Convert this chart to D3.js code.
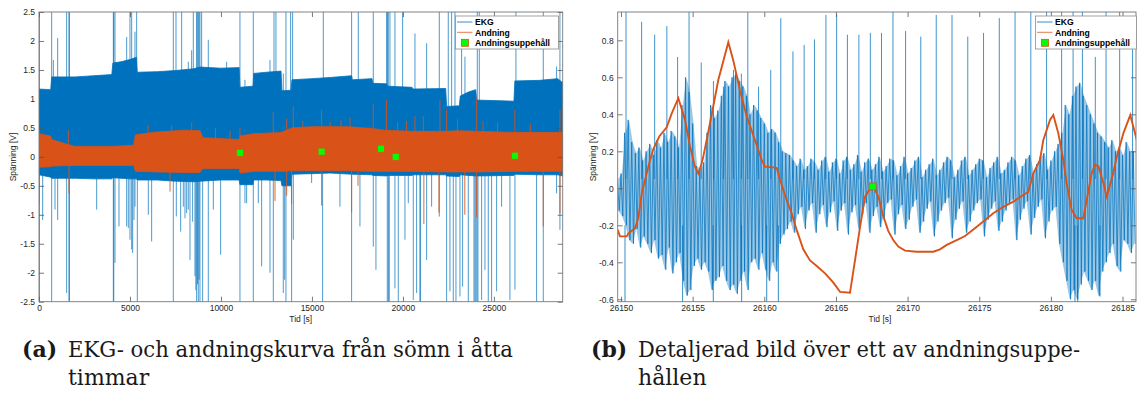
<!DOCTYPE html>
<html><head><meta charset="utf-8">
<script src="https://cdn.jsdelivr.net/npm/d3@7"></script>
<style>
body{margin:0;background:#fff}
svg{display:block}
.tick text{font-family:"Liberation Sans",Arial,sans-serif;font-size:8.5px;fill:#262626}
.lbl{font-family:"Liberation Sans",Arial,sans-serif;font-size:8.5px;fill:#262626}
.leg{font-family:"Liberation Sans",Arial,sans-serif;font-size:8.6px;font-weight:bold;fill:#000}
.cap{font-family:"DejaVu Serif","Liberation Serif","Noto Serif",serif;font-size:22px;fill:#1a1a1a}
</style></head><body>
<svg id="c" width="1137" height="399"></svg>
<script>
// ---------- Panel (a): whole night, 0..28780 s ----------
// EKG band (upper / lower envelope of the dense trace)
const ekgATime = [0,640,700,2000,3000,4000,4060,4500,5000,5360,5400,6500,7500,8500,8850,10000,11000,11040,11760,11800,12500,13300,13350,13850,13900,15000,16000,17180,17220,18300,18350,19100,19150,20500,20550,22350,22400,23100,23150,23600,24000,24050,26100,26150,27500,28500,28780];
const ekgAHi = [1.17,1.16,1.38,1.38,1.40,1.42,1.62,1.64,1.68,1.72,1.46,1.47,1.49,1.52,1.55,1.53,1.54,1.20,1.22,1.44,1.46,1.48,1.14,1.15,1.33,1.35,1.37,1.40,1.33,1.35,1.27,1.26,1.22,1.20,1.17,1.18,0.87,0.88,1.05,1.12,1.16,0.98,0.96,1.31,1.32,1.35,1.28];
const ekgALo = [-0.31,-0.35,-0.37,-0.37,-0.38,-0.38,-0.36,-0.37,-0.38,-0.38,-0.40,-0.40,-0.42,-0.43,-0.42,-0.40,-0.40,-0.48,-0.48,-0.40,-0.40,-0.41,-0.50,-0.50,-0.30,-0.29,-0.28,-0.30,-0.30,-0.31,-0.32,-0.33,-0.32,-0.32,-0.31,-0.31,-0.33,-0.34,-0.31,-0.32,-0.33,-0.33,-0.32,-0.30,-0.31,-0.31,-0.33];
// EKG artefact spikes
const ekgAUpT = [24,696,788,1026,1520,1648,1670,4085,4110,4177,4817,5000,5092,5275,5366,7381,7528,7839,8205,8388,8480,8663,8700,8755,8800,8846,8938,9304,10311,11044,11319,11777,12693,12913,13022,13425,13571,13828,13938,15623,17180,17546,18370,19103,19150,19195,19286,19561,19982,20660,21302,21998,22492,22675,22859,23225,23408,24086,24196,26210,27712,28444,28628];
const ekgAUpV = [2.5,2.5,1.67,2.05,2.5,2.5,2.5,2.5,2.5,2.5,2.07,2.5,2.5,2.16,2.5,2.5,2.5,2.5,1.64,1.84,2.5,2.5,2.5,2.5,2.5,2.5,2.5,2.02,1.64,2.5,1.33,2.5,1.67,2.5,2.5,1.44,2.5,2.5,2.5,2.5,2.5,2.5,2.5,2.5,2.5,2.5,2.5,2.5,2.5,2.13,1.96,2.5,2.5,2.5,2.5,2.07,1.73,2.5,2.5,2.5,2.5,1.56,2.5];
const ekgADnT = [24,201,696,879,1026,1520,1648,1670,3169,4085,4110,4177,4396,4817,4909,5000,5092,5147,5220,5275,5403,6008,6191,7381,7546,7784,7930,8022,8114,8205,8297,8443,8571,8620,8663,8710,8755,8800,8846,8993,9304,9579,9982,11044,11319,11411,11777,12052,12235,12693,12876,13425,13500,13571,13608,13883,13975,14982,15586,16539,17180,17638,18370,18517,19140,19200,19250,19561,19744,20111,20294,20569,20752,20935,20960,21302,21576,21998,22401,22584,22767,22914,23134,23280,23592,23903,23960,24013,24070,24123,24324,24507,24690,24873,25148,25423,25880,26155,27345,27712,28444,28628];
const ekgADnV = [-2.5,-1.09,-2.5,-0.91,-1.09,-2.35,-2.5,-2.5,-0.91,-2.5,-2.5,-1.83,-1.2,-1.2,-1.23,-1.43,-1.6,-1.66,-1.09,-0.86,-2.5,-1.0,-1.46,-2.5,-1.03,-1.29,-0.86,-1.06,-0.97,-0.91,-1.78,-1.12,-2.06,-2.3,-2.5,-2.2,-2.5,-2.12,-2.5,-2.5,-2.5,-0.91,-1.69,-2.5,-0.8,-0.8,-2.5,-0.8,-1.89,-2.0,-2.5,-2.35,-2.12,-2.5,-0.4,-2.5,-1.43,-0.45,-2.5,-0.86,-2.5,-1.2,-1.55,-1.95,-2.5,-2.5,-2.5,-2.27,-2.5,-1.43,-0.8,-2.47,-2.35,-2.5,-2.5,-1.78,-0.86,-1.03,-2.5,-2.32,-2.5,-2.5,-2.41,-2.24,-2.5,-2.5,-2.5,-2.5,-2.5,-2.5,-2.47,-1.95,-2.5,-2.5,-2.32,-0.86,-2.47,-2.29,-2.5,-2.5,-0.63,-1.26];
// Breathing band and its spikes
const respATime = [0,640,700,1500,2000,4000,5200,5300,6500,8000,8850,9000,11000,11050,11800,13300,13900,15000,17000,18300,19000,20500,22400,23100,24000,26100,28780];
const respAHi = [0.40,0.36,0.30,0.22,0.18,0.18,0.20,0.38,0.43,0.46,0.45,0.33,0.30,0.36,0.40,0.42,0.50,0.52,0.52,0.49,0.46,0.44,0.44,0.45,0.44,0.42,0.42];
const respALo = [-0.18,-0.17,-0.16,-0.15,-0.15,-0.15,-0.15,-0.25,-0.26,-0.27,-0.27,-0.20,-0.20,-0.28,-0.25,-0.25,-0.24,-0.24,-0.24,-0.25,-0.25,-0.25,-0.26,-0.26,-0.26,-0.25,-0.25];
const respAUpT = [5,1612,6000,7290,8390,9700,10500,11045,12875,13610,13975,14500,15530,16000,16600,17090,18370,19100,19700,20200,20660,21120,22035,22400,23000,24050,24400,25200,26150,27000,28630];
const respAUpV = [0.46,0.46,0.55,0.55,0.60,0.50,0.45,0.50,0.78,0.66,0.87,0.62,0.81,0.60,0.63,0.68,0.92,0.98,0.60,0.62,0.70,0.70,0.98,0.81,0.65,1.03,0.62,0.60,0.81,0.58,0.81];
const respADnT = [5,1650,7200,12970,13610,13880,15530,17180,17530,21150,21980,23400,24050,27710,28630];
const respADnV = [-0.8,-0.63,-0.6,-0.76,-0.67,-0.81,-0.84,-0.96,-0.5,-1.16,-0.96,-1.0,-1.05,-1.2,-0.98];
// Detected apnea events
const apneaAT = [11040,15530,18790,19600,26150];
const apneaAV = [0.07,0.09,0.14,0.0,0.02];

// ---------- Panel (b): zoom around one apnea ----------
// EKG: local max / min of the trace per 0.25 s bin
const ekgBStart = 26149.75, ekgBStep = 0.25;
const ekgBHi = [0.05,0.08,0.30,0.37, 0.25,0.19,0.22,0.15, 0.20,0.24,0.18,0.26, 0.22,0.30,0.25,0.31,
  0.28,0.22,0.45,0.60, 0.52,0.35,0.12,0.10, 0.14,0.30,0.45,0.38, 0.42,0.50,0.58,0.55,
  0.60,0.62,0.58,0.55, 0.50,0.40,0.45,0.42, 0.38,0.35,0.30,0.32, 0.30,0.25,0.20,0.19,
  0.18,0.15,0.12,0.16, 0.10,0.12,0.16,0.14, 0.10,0.15,0.17,0.09, 0.14,0.16,0.08,0.15,
  0.17,0.10,0.13,0.18, 0.09,0.14,0.16,0.10, 0.13,0.17,0.09,0.12, 0.16,0.15,0.07,0.12,
  0.17,0.08,0.11,0.15, 0.17,0.06,0.10,0.13, 0.16,0.07,0.10,0.14, 0.17,0.15,0.06,0.10,
  0.15,0.17,0.07,0.10, 0.13,0.16,0.15,0.06, 0.11,0.14,0.17,0.08, 0.10,0.14,0.17,0.15,
  0.07,0.12,0.16,0.18, 0.08,0.13,0.17,0.19, 0.10,0.15,0.20,0.24, 0.30,0.45,0.40,0.50,
  0.55,0.57,0.50,0.45, 0.40,0.35,0.30,0.28, 0.25,0.22,0.26,0.20, 0.22,0.18,0.25,0.20, 0.20];
const ekgBLo = [-0.12,-0.15,-0.20,-0.28, -0.30,-0.22,-0.32,-0.26, -0.30,-0.35,-0.28,-0.38, -0.36,-0.44,-0.32,-0.46,
  -0.40,-0.35,-0.50,-0.58, -0.55,-0.42,-0.38,-0.44, -0.40,-0.45,-0.55,-0.50, -0.48,-0.42,-0.50,-0.55,
  -0.52,-0.57,-0.50,-0.45, -0.55,-0.40,-0.38,-0.44, -0.35,-0.44,-0.50,-0.40, -0.45,-0.30,-0.25,-0.22,
  -0.18,-0.24,-0.14,-0.10, -0.22,-0.12,-0.08,-0.24, -0.14,-0.09,-0.21,-0.13, -0.07,-0.23,-0.12,-0.08,
  -0.25,-0.13,-0.09,-0.22, -0.14,-0.08,-0.24,-0.15, -0.10,-0.21,-0.16,-0.08, -0.06,-0.25,-0.14,-0.09,
  -0.22,-0.17,-0.10,-0.06, -0.24,-0.18,-0.11,-0.07, -0.26,-0.18,-0.12,-0.08, -0.05,-0.27,-0.17,-0.11,
  -0.07,-0.24,-0.18,-0.12, -0.08,-0.06,-0.26,-0.17, -0.11,-0.07,-0.23,-0.18, -0.12,-0.08,-0.06,-0.28,
  -0.17,-0.11,-0.07,-0.25, -0.16,-0.10,-0.06,-0.27, -0.18,-0.12,-0.10,-0.30, -0.40,-0.50,-0.60,-0.55,
  -0.60,-0.52,-0.45,-0.50, -0.55,-0.50,-0.58,-0.45, -0.40,-0.35,-0.30,-0.42, -0.45,-0.28,-0.30,-0.35, -0.30];
// R peaks
const rPeakT = [26150.35,26151.44,26152.35,26153.2,26153.95,26154.75,26155.6,26156.45,26157.15,26157.85,26158.4,26158.85,26159.6,26160.45,26161.15,26162.0,26162.78,26163.5,26164.3,26165.05,26165.8,26166.6,26167.4,26168.18,26168.98,26169.86,26170.92,26172.0,26173.1,26174.2,26175.3,26176.4,26177.5,26178.6,26179.7,26180.75,26181.55,26182.2,26183.1,26183.85,26184.8,26185.7];
const rPeakV = [0.96,0.90,0.83,0.877,0.71,0.96,0.68,0.58,0.55,0.64,0.62,0.96,0.55,0.64,0.92,0.74,0.775,0.805,0.937,0.94,0.83,0.83,0.84,0.84,0.96,0.85,0.82,0.937,0.937,0.82,0.84,0.92,0.96,0.96,0.96,0.96,0.96,0.96,0.71,0.96,0.96,0.83];
// deep negative artefacts
const dipT = [26150.28,26154.3,26156.44,26158.42,26160.17,26160.98,26181.68,26181.87,26183.43];
const dipV = [-0.62,-0.62,-0.62,-0.62,-0.62,-0.62,-0.62,-0.62,-0.585];
// Breathing signal
const respBT = [26149.77,26149.93,26150.4,26150.51,26150.98,26151.21,26151.44,26151.79,26152.02,26152.25,26152.67,26153.19,26153.54,26154.0,26154.47,26154.82,26155.16,26155.4,26155.63,26155.74,26156.21,26156.79,26157.49,26157.84,26158.3,26158.77,26159.35,26159.82,26160.05,26160.75,26160.87,26161.1,26161.56,26161.91,26162.26,26162.72,26163.19,26163.66,26164.24,26164.82,26165.29,26165.98,26166.33,26166.68,26167.03,26167.56,26167.96,26168.3,26168.65,26169.0,26169.35,26169.82,26170.63,26171.8,26172.26,26172.73,26173.43,26174.01,26174.7,26175.28,26175.98,26176.68,26177.38,26178.07,26178.42,26178.77,26179.24,26179.47,26179.94,26180.17,26180.52,26180.87,26181.1,26181.45,26181.8,26182.26,26182.5,26182.84,26183.08,26183.31,26183.66,26183.9,26184.35,26184.6,26185.07,26185.54,26186.0];
const respBV = [-0.225,-0.26,-0.26,-0.245,-0.215,-0.16,-0.03,0.08,0.15,0.21,0.28,0.33,0.405,0.487,0.37,0.225,0.117,0.08,0.135,0.17,0.35,0.585,0.79,0.69,0.53,0.39,0.26,0.153,0.117,0.112,0.11,0.045,-0.063,-0.135,-0.225,-0.33,-0.39,-0.42,-0.46,-0.51,-0.56,-0.565,-0.39,-0.21,-0.045,0.018,-0.045,-0.15,-0.23,-0.28,-0.315,-0.337,-0.343,-0.343,-0.33,-0.306,-0.28,-0.258,-0.216,-0.18,-0.135,-0.1,-0.072,-0.036,-0.02,0.08,0.153,0.26,0.37,0.396,0.297,0.153,0.027,-0.117,-0.162,-0.162,-0.063,0.08,0.126,0.12,0.03,-0.045,0.08,0.17,0.3,0.396,0.26];
const apneaBT = [26167.56];
const apneaBV = [0.01];

// tick values
const xTicksA = [0,5000,10000,15000,20000,25000];
const yTicksA = [-2.5,-2,-1.5,-1,-0.5,0,0.5,1,1.5,2,2.5];
const xTicksB = [26150,26155,26160,26165,26170,26175,26180,26185];
const yTicksB = [-0.6,-0.4,-0.2,0,0.2,0.4,0.6,0.8];

const BLUE = "#0072BD", ORANGE = "#D95319", GREEN = "#00FF00";
const svg = d3.select("#c");
const fmt = d => String(+d.toFixed(2));

function frame(g, x, y, id) {
  const [x0, x1] = x.range(), [y0, y1] = y.range();
  g.append("clipPath").attr("id", id).append("rect")
    .attr("x", x0).attr("y", y1).attr("width", x1 - x0).attr("height", y0 - y1);
  return g.append("g").attr("clip-path", `url(#${id})`);
}
function axes(g, x, y, xt, yt) {
  const [x0, x1] = x.range(), [y0, y1] = y.range();
  const ax = g.append("g").attr("color", "#555");
  ax.append("g").attr("transform", `translate(0,${y0})`)
    .call(d3.axisBottom(x).tickValues(xt).tickSizeInner(-5).tickSizeOuter(0).tickPadding(3).tickFormat(fmt))
    .call(s => s.select(".domain").remove());
  ax.append("g").attr("transform", `translate(0,${y1})`)
    .call(d3.axisTop(x).tickValues(xt).tickSizeInner(-5).tickSizeOuter(0).tickFormat(""))
    .call(s => s.select(".domain").remove());
  ax.append("g").attr("transform", `translate(${x0},0)`)
    .call(d3.axisLeft(y).tickValues(yt).tickSizeInner(-5).tickSizeOuter(0).tickPadding(4).tickFormat(fmt))
    .call(s => s.select(".domain").remove());
  ax.append("g").attr("transform", `translate(${x1},0)`)
    .call(d3.axisRight(y).tickValues(yt).tickSizeInner(-5).tickSizeOuter(0).tickFormat(""))
    .call(s => s.select(".domain").remove());
  ax.selectAll(".tick line").attr("stroke", "#555").attr("stroke-width", 0.8);
  ax.append("rect").attr("x", x0).attr("y", y1).attr("width", x1 - x0).attr("height", y0 - y1)
    .attr("fill", "none").attr("stroke", "#777").attr("stroke-width", 0.9);
}
function legend(g, lx, ly, w) {
  const lg = g.append("g").attr("transform", `translate(${lx},${ly})`);
  lg.append("rect").attr("width", w).attr("height", 33).attr("fill", "#fff")
    .attr("stroke", "#8c8c8c").attr("stroke-width", 0.8);
  const items = [["EKG", BLUE, "line"], ["Andning", ORANGE, "line"], ["Andningsuppehåll", GREEN, "mark"]];
  items.forEach((it, i) => {
    const cy = 6 + i * 10.4;
    if (it[2] === "line") {
      lg.append("line").attr("x1", 1.5).attr("x2", 17).attr("y1", cy).attr("y2", cy)
        .attr("stroke", it[1]).attr("stroke-width", 1.3).attr("opacity", 0.6);
    } else {
      lg.append("rect").attr("x", 6).attr("y", cy - 3.5).attr("width", 7).attr("height", 7)
        .attr("fill", it[1]).attr("stroke", ORANGE).attr("stroke-width", 0.8);
    }
    lg.append("text").attr("class", "leg").attr("x", 19.5).attr("y", cy + 3.1).text(it[0]);
  });
}

// ===== Panel (a) =====
const xA = d3.scaleLinear([0, 28780], [39, 562.7]);
const yA = d3.scaleLinear([-2.5, 2.5], [301.7, 12]);
const gA = svg.append("g");
const pA = frame(gA, xA, yA, "clipA");

pA.selectAll(".su").data(ekgAUpT).join("line")
  .attr("x1", d => xA(d)).attr("x2", d => xA(d)).attr("y1", yA(0.5))
  .attr("y2", (d, i) => yA(ekgAUpV[i])).attr("stroke", BLUE).attr("stroke-width", 1).attr("opacity", 0.7);
pA.selectAll(".sd").data(ekgADnT).join("line")
  .attr("x1", d => xA(d)).attr("x2", d => xA(d)).attr("y1", yA(0))
  .attr("y2", (d, i) => yA(ekgADnV[i])).attr("stroke", BLUE).attr("stroke-width", 1).attr("opacity", 0.7);

const bandA = d3.area().x(d => xA(d[0])).y0(d => yA(d[2])).y1(d => yA(d[1]));
pA.append("path").datum(ekgATime.map((t, i) => [t, ekgAHi[i], ekgALo[i]]))
  .attr("d", bandA).attr("fill", BLUE).attr("stroke", BLUE).attr("stroke-width", 0.8);
pA.append("path").datum(respATime.map((t, i) => [t, respAHi[i], respALo[i]]))
  .attr("d", bandA).attr("fill", ORANGE).attr("stroke", ORANGE).attr("stroke-width", 0.8);
pA.selectAll(".ru").data(respAUpT).join("line")
  .attr("x1", d => xA(d)).attr("x2", d => xA(d)).attr("y1", yA(0))
  .attr("y2", (d, i) => yA(respAUpV[i])).attr("stroke", ORANGE).attr("stroke-width", 1).attr("opacity", 0.85);
pA.selectAll(".rd").data(respADnT).join("line")
  .attr("x1", d => xA(d)).attr("x2", d => xA(d)).attr("y1", yA(0))
  .attr("y2", (d, i) => yA(respADnV[i])).attr("stroke", ORANGE).attr("stroke-width", 1).attr("opacity", 0.85);
pA.selectAll(".ap").data(apneaAT).join("rect")
  .attr("x", d => xA(d) - 3.5).attr("y", (d, i) => yA(apneaAV[i]) - 3.5)
  .attr("width", 7).attr("height", 7).attr("fill", GREEN).attr("stroke", ORANGE).attr("stroke-width", 0.8);
axes(gA, xA, yA, xTicksA, yTicksA);
legend(gA, 455.5, 16, 103);
gA.append("text").attr("class", "lbl").attr("x", 300.7).attr("y", 322).attr("text-anchor", "middle").text("Tid [s]");
gA.append("text").attr("class", "lbl").attr("transform", "translate(16,157) rotate(-90)")
  .attr("text-anchor", "middle").text("Spänning [V]");

// ===== Panel (b) =====
const xB = d3.scaleLinear([26149.77, 26185.94], [617.7, 1136]);
const yB = d3.scaleLinear([-0.613, 0.953], [301.7, 12]);
const gB = svg.append("g");
const pB = frame(gB, xB, yB, "clipB");

// envelope of the dense EKG trace, then the trace itself
const binsB = ekgBHi.map((h, i) => [ekgBStart + i * ekgBStep + ekgBStep / 4, h, ekgBLo[i]]);
pB.append("path").datum(binsB)
  .attr("d", d3.area().x(d => xB(d[0])).y0(d => yB(d[2])).y1(d => yB(d[1])))
  .attr("fill", BLUE).attr("opacity", 0.4);
const zig = [];
ekgBHi.forEach((h, i) => {
  const t = ekgBStart + i * ekgBStep;
  zig.push([t, h], [t + ekgBStep / 2, ekgBLo[i]]);
});
pB.append("path").datum(zig)
  .attr("d", d3.line().x(d => xB(d[0])).y(d => yB(d[1])))
  .attr("fill", "none").attr("stroke", BLUE).attr("stroke-width", 0.8).attr("opacity", 0.9);
pB.selectAll(".rp").data(rPeakT).join("line")
  .attr("x1", d => xB(d)).attr("x2", d => xB(d)).attr("y1", yB(0.05))
  .attr("y2", (d, i) => yB(rPeakV[i])).attr("stroke", BLUE).attr("stroke-width", 1).attr("opacity", 0.75);
pB.selectAll(".dp").data(dipT).join("line")
  .attr("x1", d => xB(d)).attr("x2", d => xB(d)).attr("y1", yB(-0.2))
  .attr("y2", (d, i) => yB(dipV[i])).attr("stroke", BLUE).attr("stroke-width", 1).attr("opacity", 0.8);
pB.append("path").datum(respBT.map((t, i) => [t, respBV[i]]))
  .attr("d", d3.line().x(d => xB(d[0])).y(d => yB(d[1])))
  .attr("fill", "none").attr("stroke", ORANGE).attr("stroke-width", 1.9);
pB.selectAll(".ab").data(apneaBT).join("rect")
  .attr("x", d => xB(d) - 3.5).attr("y", (d, i) => yB(apneaBV[i]) - 3.5)
  .attr("width", 7).attr("height", 7).attr("fill", GREEN).attr("stroke", ORANGE).attr("stroke-width", 0.8);
axes(gB, xB, yB, xTicksB, yTicksB);
legend(gB, 1035.5, 16, 101);
gB.append("text").attr("class", "lbl").attr("x", 880).attr("y", 322).attr("text-anchor", "middle").text("Tid [s]");
gB.append("text").attr("class", "lbl").attr("transform", "translate(595.5,157) rotate(-90)")
  .attr("text-anchor", "middle").text("Spänning [V]");

// ===== Captions =====
const cap = svg.append("g");
cap.append("text").attr("class", "cap").attr("x", 22).attr("y", 357).attr("font-weight", "bold").text("(a)");
cap.append("text").attr("class", "cap").attr("x", 68).attr("y", 357).attr("textLength", 445)
  .attr("lengthAdjust", "spacingAndGlyphs").text("EKG- och andningskurva från sömn i åtta");
cap.append("text").attr("class", "cap").attr("x", 68).attr("y", 385).text("timmar");
cap.append("text").attr("class", "cap").attr("x", 591).attr("y", 357).attr("font-weight", "bold").text("(b)");
cap.append("text").attr("class", "cap").attr("x", 638).attr("y", 357).attr("textLength", 442)
  .attr("lengthAdjust", "spacingAndGlyphs").text("Detaljerad bild över ett av andningsuppe-");
cap.append("text").attr("class", "cap").attr("x", 638).attr("y", 385).text("hållen");
</script>
</body></html>
